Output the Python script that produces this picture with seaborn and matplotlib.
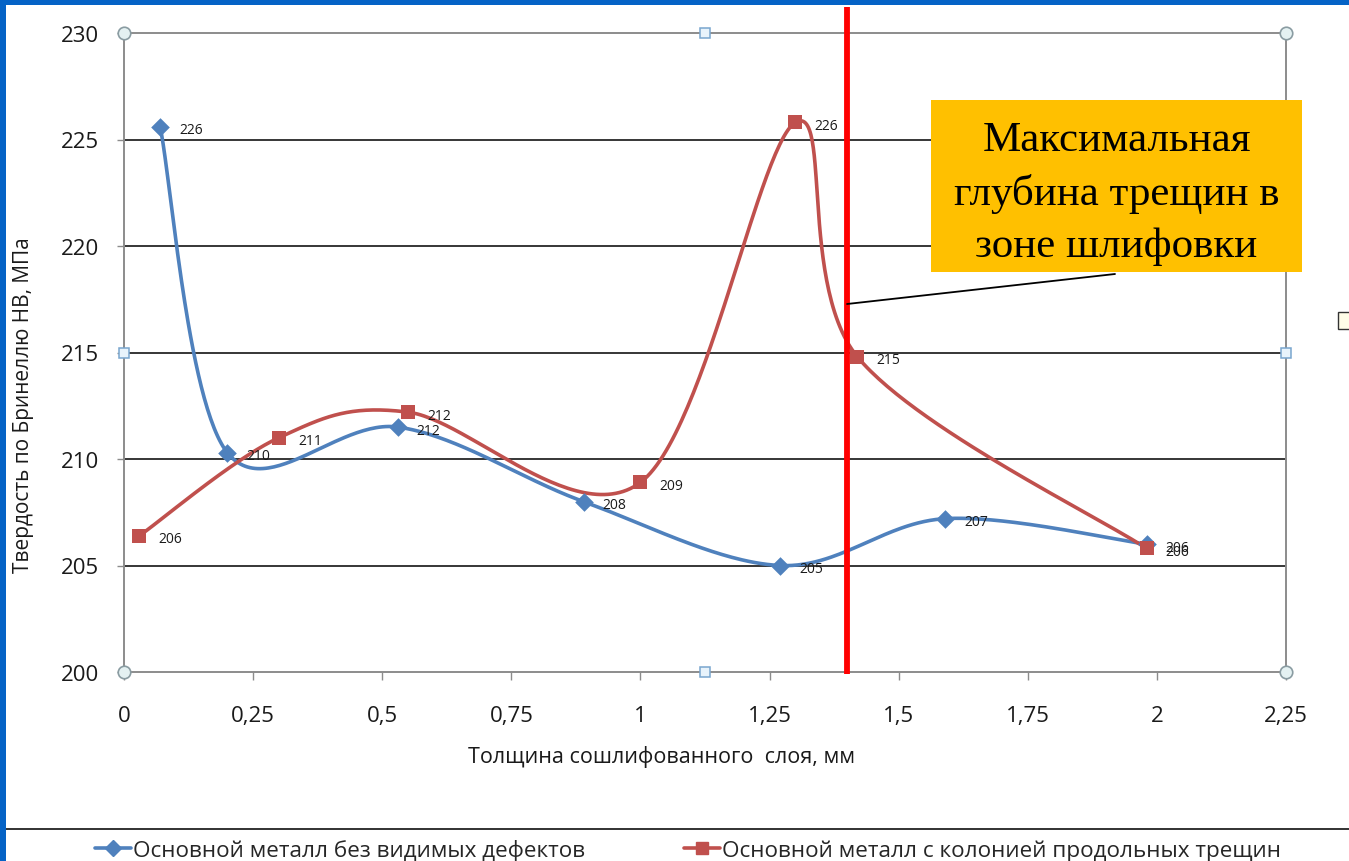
import numpy as np
import pandas as pd
import matplotlib
matplotlib.use("Agg")
import matplotlib.pyplot as plt
from matplotlib.lines import Line2D
from matplotlib.patches import Rectangle
import seaborn as sns

# Brinell hardness versus thickness of the ground-off layer
thickness_plain = [0.07, 0.20, 0.53, 0.89, 1.27, 1.59, 1.98]
hardness_plain = [225.6, 210.3, 211.5, 208.0, 205.0, 207.2, 206.0]
thickness_cracked = [0.03, 0.30, 0.55, 1.00, 1.30, 1.42, 1.98]
hardness_cracked = [206.4, 211.0, 212.2, 208.9, 225.8, 214.8, 205.8]

series_names = ["Основной металл без видимых дефектов",
                "Основной металл с колонией продольных трещин"]
x_ticks = [0, 0.25, 0.5, 0.75, 1.0, 1.25, 1.5, 1.75, 2.0, 2.25]
x_tick_labels = ["0", "0,25", "0,5", "0,75", "1", "1,25", "1,5", "1,75", "2", "2,25"]
y_ticks = [200, 205, 210, 215, 220, 225, 230]
crack_depth = 1.4
callout_text = "Максимальная\nглубина трещин в\nзоне шлифовки"
x_title = "Толщина сошлифованного  слоя, мм"
y_title = "Твердость по Бринеллю НВ, МПа"

BLUE = "#4F81BD"
RED = "#C0504D"

sns.set_theme(style="white")
plt.rcParams["font.family"] = ["Open Sans", "DejaVu Sans"]

W, H = 1349, 862
fig = plt.figure(figsize=(W / 100, H / 100), dpi=100)
fig.patch.set_facecolor("white")

L, R, T, B = 124, 1286, 34, 673
ax = fig.add_axes([L / W, 1 - B / H, (R - L) / W, (B - T) / H])
ax.set_xlim(0, 2.25)
ax.set_ylim(200, 230)

px_per_x = (R - L) / 2.25
px_per_y = (B - T) / 30.0


def smooth_curve(xs, ys, n=60):
    """Bezier smoothing through the points (Catmull-Rom, 1/6 handles) in screen scale."""
    P = np.column_stack([np.asarray(xs) * px_per_x, np.asarray(ys) * px_per_y])
    ext = np.vstack([P[0], P, P[-1]])
    parts = []
    t = np.linspace(0, 1, n)[:, None]
    for i in range(len(P) - 1):
        p0, p1, p2, p3 = ext[i], ext[i + 1], ext[i + 2], ext[i + 3]
        c1 = p1 + (p2 - p0) / 6
        c2 = p2 - (p3 - p1) / 6
        seg = (1 - t) ** 3 * p1 + 3 * (1 - t) ** 2 * t * c1 + 3 * (1 - t) * t ** 2 * c2 + t ** 3 * p2
        parts.append(seg if i == 0 else seg[1:])
    S = np.vstack(parts)
    return pd.DataFrame({"x": S[:, 0] / px_per_x, "y": S[:, 1] / px_per_y})


# grid lines and frame
for yv in y_ticks[1:-1]:
    ax.axhline(yv, color="black", lw=1.1, zorder=1)
for s in ax.spines.values():
    s.set_color("#8C8C8C")
    s.set_linewidth(1.4)

series = [
    (thickness_plain, hardness_plain, BLUE, "D", 90),
    (thickness_cracked, hardness_cracked, RED, "s", 110),
]
for xs, ys, col, mk, ms in series:
    curve = smooth_curve(xs, ys)
    sns.lineplot(data=curve, x="x", y="y", ax=ax, color=col, lw=2.6, sort=False,
                 estimator=None, zorder=3)
    sns.scatterplot(x=xs, y=ys, ax=ax, color=col, marker=mk, s=ms, linewidth=0,
                    zorder=4)
    for xv, yv in zip(xs, ys):
        ax.annotate(f"{yv:.0f}", (xv, yv), xytext=(19, -3), textcoords="offset pixels",
                    fontsize=10, va="center", ha="left", color="#1a1a1a", zorder=5)

ax.set_xticks(x_ticks)
ax.set_xticklabels(x_tick_labels)
ax.set_yticks(y_ticks)
ax.tick_params(axis="y", left=True, length=5, width=1, color="#8C8C8C",
               labelsize=16, pad=13, labelcolor="#1a1a1a")
ax.tick_params(axis="x", bottom=True, direction="out", length=6, width=1,
               color="#8C8C8C", labelsize=16, pad=18, labelcolor="#1a1a1a")
ax.set_xlabel(x_title, fontsize=15.5, color="#1a1a1a")
ax.set_ylabel(y_title, fontsize=15, color="#1a1a1a")
ax.yaxis.set_label_coords(-(L - 24) / (R - L), (B - 405) / (B - T))
ax.xaxis.set_label_coords((661 - L) / (R - L), -(757 - B) / (B - T))
ax.xaxis.label.set_va("center")
ax.yaxis.label.set_va("center")

# maximum crack depth marker
top_val = 230 + (T - 8) / px_per_y
ax.plot([crack_depth, crack_depth], [199.9, top_val], color="#FF0000", lw=4.2,
        clip_on=False, zorder=6, solid_capstyle="butt")

# selection handles of the plot area
for hx, hy in [(0, 0), (1, 0), (0, 1), (1, 1)]:
    ax.plot(hx, hy, "o", transform=ax.transAxes, ms=9, mfc="#E4F1F2", mec="#8A9CA2",
            mew=1.2, clip_on=False, zorder=7)
for hx, hy in [(0.5, 0), (0.5, 1), (0, 0.5), (1, 0.5)]:
    ax.plot(hx, hy, "s", transform=ax.transAxes, ms=7, mfc="#E8F3FB", mec="#79A6CE",
            mew=1.1, clip_on=False, zorder=7)

# callout box and its pointer
bx0, by0, bx1, by1 = 931, 101, 1302, 273
fig.patches.append(Rectangle((bx0 / W, 1 - by1 / H), (bx1 - bx0) / W, (by1 - by0) / H,
                             transform=fig.transFigure, facecolor="#FFC000",
                             edgecolor="none", zorder=8))
fig.text((bx0 + bx1) / 2 / W, 1 - 194 / H, callout_text,
         ha="center", va="center", fontsize=31, linespacing=1.45,
         family=["Liberation Serif", "DejaVu Serif"], color="black", zorder=9)
p0 = (crack_depth, 230 - (305 - T) / px_per_y)
p1 = ((1115 - L) / px_per_x, 230 - (275 - T) / px_per_y)
ax.plot([p0[0], p1[0]], [p0[1], p1[1]], color="black", lw=1.3, clip_on=False, zorder=6)

# slide background edges and chart-area separator
blue_bg = "#0563C6"
fig.patches.append(Rectangle((0, 1 - 6 / H), 1, 6 / H, transform=fig.transFigure,
                             facecolor=blue_bg, edgecolor="none", zorder=10))
fig.patches.append(Rectangle((0, 0), 6 / W, 1, transform=fig.transFigure,
                             facecolor=blue_bg, edgecolor="none", zorder=10))
fig.add_artist(Line2D([6 / W, 1], [1 - 830 / H] * 2, transform=fig.transFigure,
                      color="#222222", lw=1.3))
fig.patches.append(Rectangle((1338 / W, 1 - 330 / H), 14 / W, 17 / H,
                             transform=fig.transFigure, facecolor="#FFFDE8",
                             edgecolor="#333333", lw=1))

# legend along the bottom edge
handles = [
    Line2D([], [], color=BLUE, lw=2.6, marker="D", ms=8, mec=BLUE),
    Line2D([], [], color=RED, lw=2.6, marker="s", ms=9, mec=RED),
]
fig.legend(handles, series_names, loc="center", bbox_to_anchor=(688 / W, 1 - 851 / H),
           ncol=2, frameon=False, fontsize=16.2, handlelength=1.6, handletextpad=0.1,
           columnspacing=4.4)

fig.savefig("out.png", dpi=100)
